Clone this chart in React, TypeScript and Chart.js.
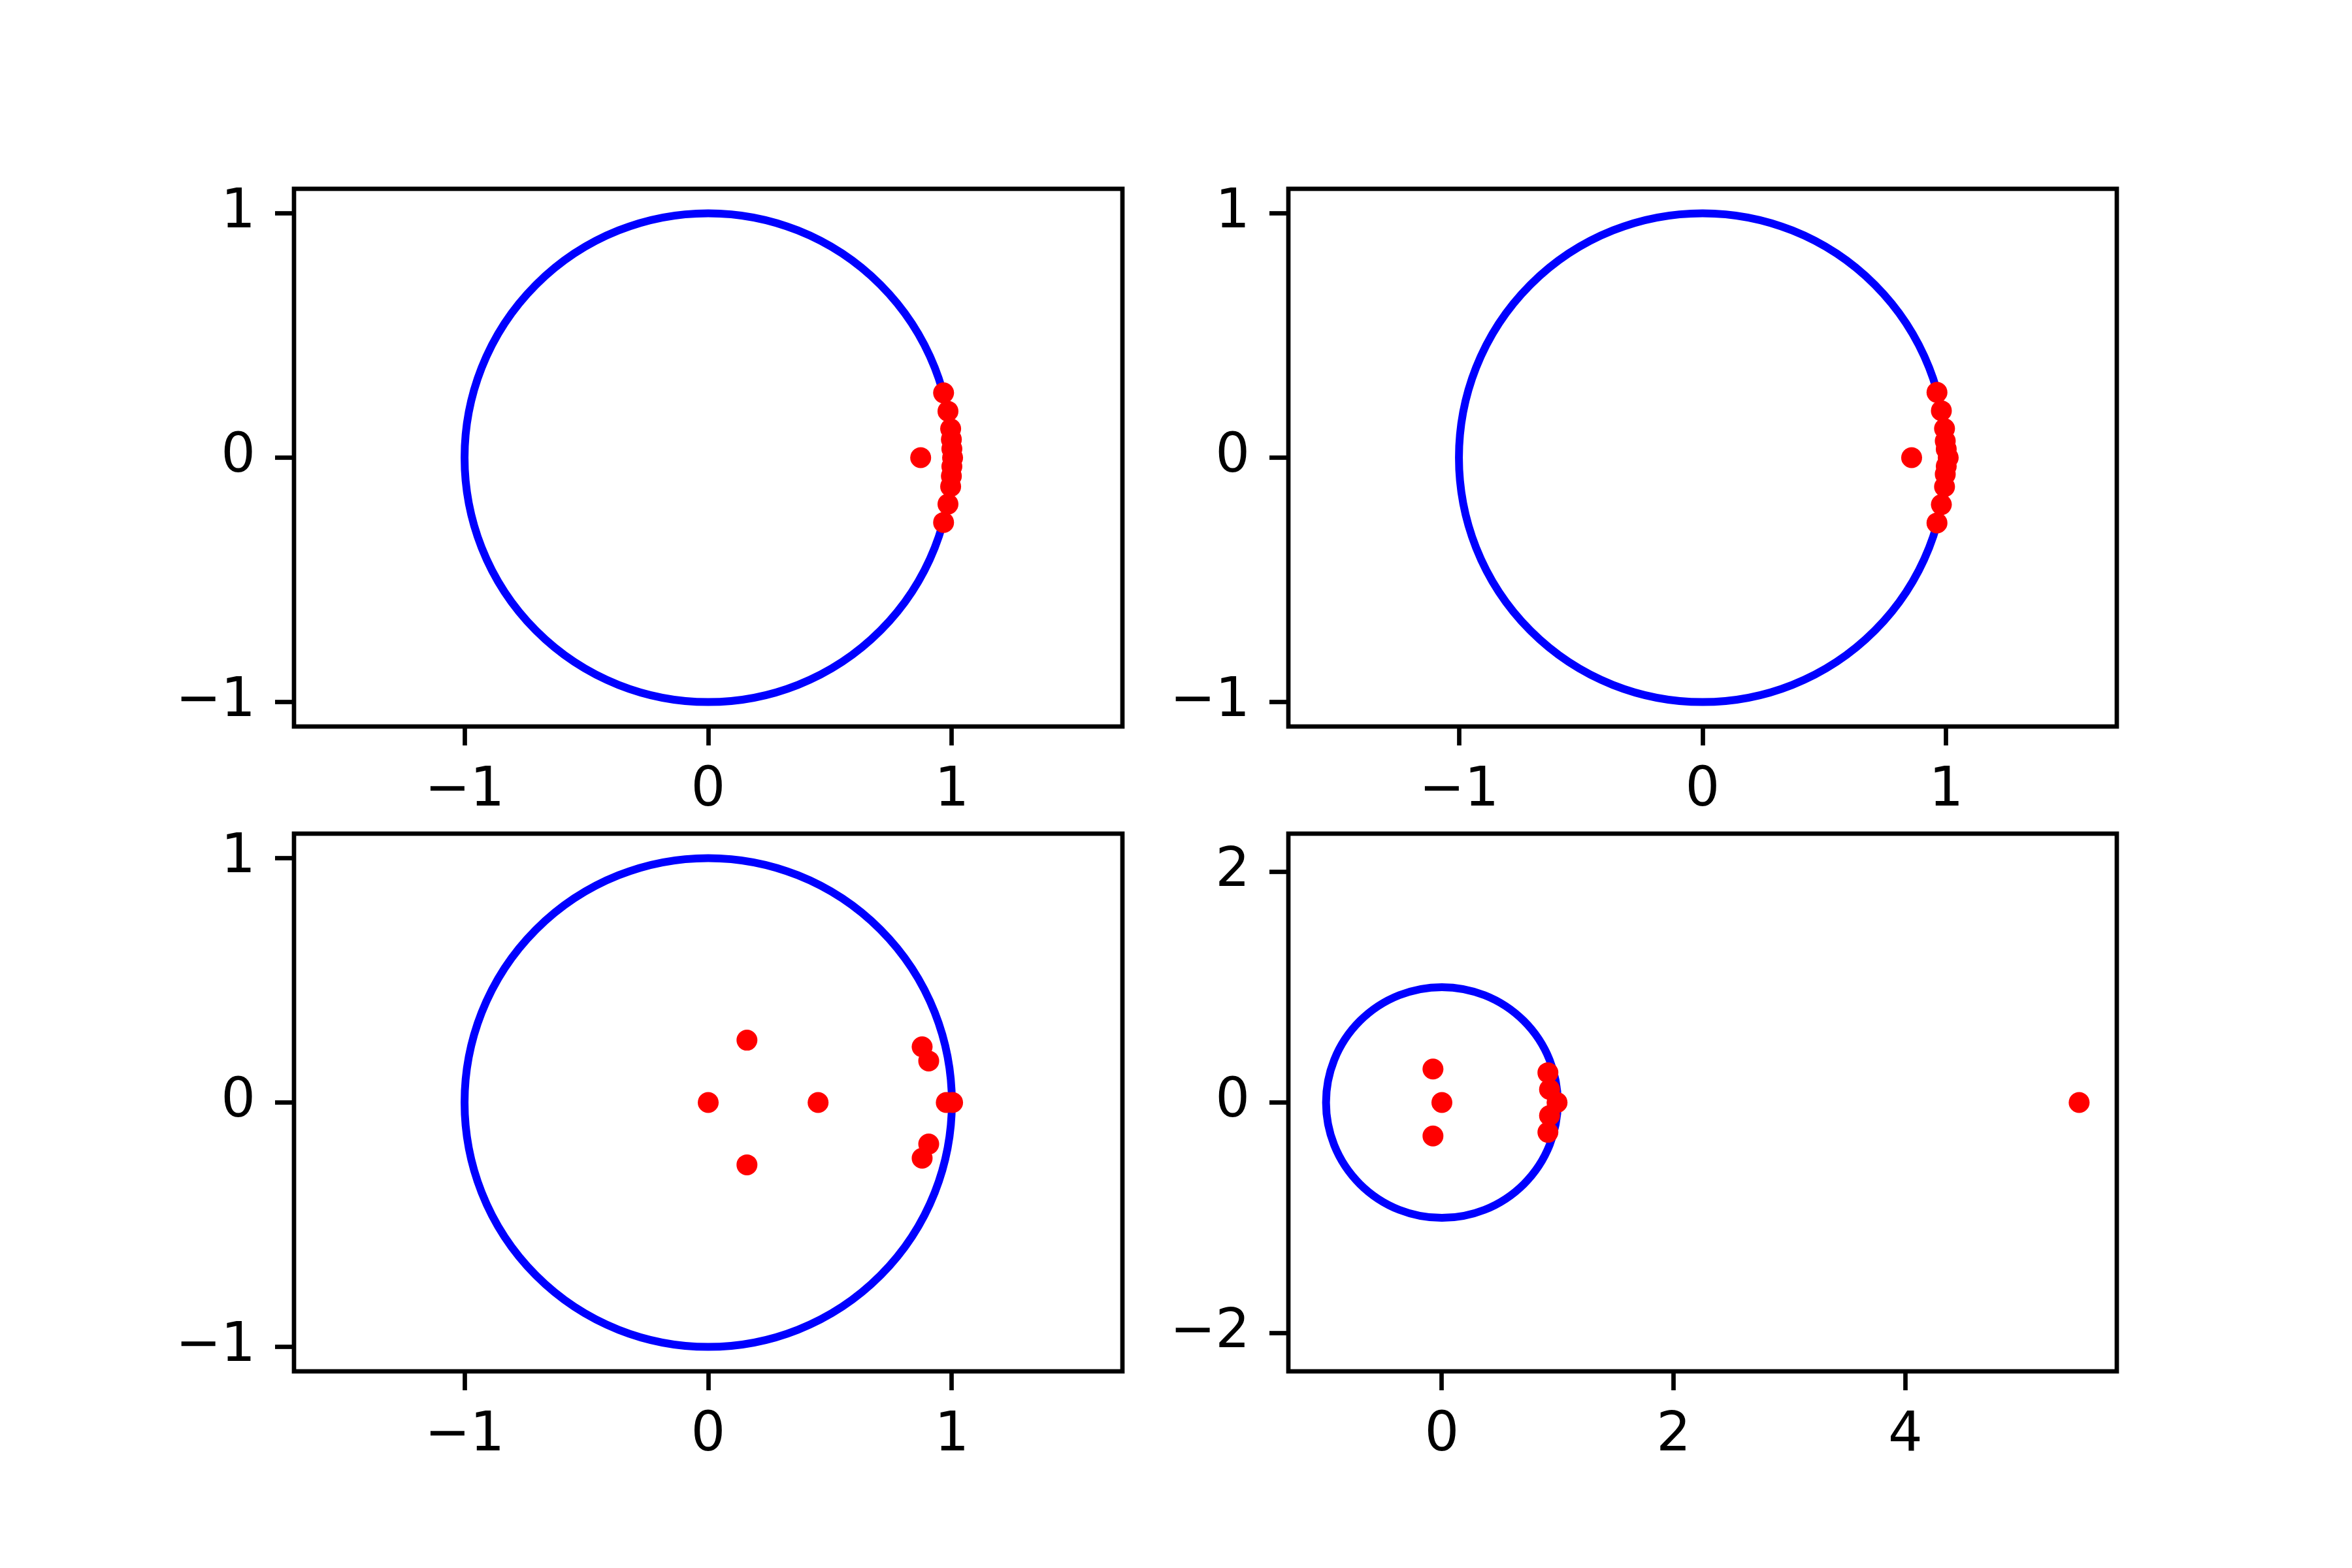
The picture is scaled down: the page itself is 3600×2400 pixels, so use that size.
import React, { useEffect, useRef } from "react";
import { Chart, registerables } from "chart.js";

Chart.register(...registerables);

// ---------- data ----------
// reference circle (unit circle) drawn in every panel
const circleCenterX = 0;
const circleCenterY = 0;
const circleRadius = 1;

// panel 1 (top-left) roots
const p1Re = [0.872, 0.966, 0.984, 0.995, 0.998, 1.0, 1.003, 1.0, 0.998, 0.995, 0.984, 0.966];
const p1Im = [0, 0.265, 0.19, 0.118, 0.075, 0.036, 0, -0.036, -0.075, -0.118, -0.19, -0.265];

// panel 2 (top-right) roots
const p2Re = [0.858, 0.962, 0.98, 0.993, 0.996, 1.0, 1.008, 1.0, 0.996, 0.993, 0.98, 0.962];
const p2Im = [0, 0.267, 0.192, 0.119, 0.068, 0.035, 0, -0.035, -0.068, -0.119, -0.192, -0.267];

// panel 3 (bottom-left) roots
const p3Re = [0, 0.159, 0.159, 0.451, 0.878, 0.905, 0.977, 1.003, 0.905, 0.878];
const p3Im = [0, 0.255, -0.255, 0, 0.228, 0.17, 0, 0, -0.17, -0.228];

// panel 4 (bottom-right) roots
const p4Re = [-0.077, 0, -0.077, 0.915, 0.929, 0.994, 0.929, 0.915, 5.5];
const p4Im = [0.29, 0, -0.29, 0.258, 0.113, 0, -0.113, -0.258, 0];

// axis limits and tick labels
const p1XRange = [-1.7, 1.7];
const p1YRange = [-1.1, 1.1];
const p4XRange = [-1.325, 5.825];
const p4YRange = [-2.33, 2.33];
const unitTicks = [-1, 0, 1];
const p4XTicks = [0, 2, 4];
const p4YTicks = [-2, 0, 2];

// ---------- layout (styles) ----------
const FONT = "'DejaVu Sans', 'Liberation Sans', sans-serif";
const FONT_SIZE = 83;
const Y_AXIS_W = 250;
const X_AXIS_H = 200;
const PAD_TOP = 20;
const PAD_RIGHT = 20;

const boxes = [
  { left: 450, top: 289, width: 1268, height: 823 },
  { left: 1972, top: 289, width: 1268, height: 823 },
  { left: 450, top: 1276, width: 1268, height: 823 },
  { left: 1972, top: 1276, width: 1268, height: 823 },
];

const panels = [
  { re: p1Re, im: p1Im, xr: p1XRange, yr: p1YRange, xt: unitTicks, yt: unitTicks },
  { re: p2Re, im: p2Im, xr: p1XRange, yr: p1YRange, xt: unitTicks, yt: unitTicks },
  { re: p3Re, im: p3Im, xr: p1XRange, yr: p1YRange, xt: unitTicks, yt: unitTicks },
  { re: p4Re, im: p4Im, xr: p4XRange, yr: p4YRange, xt: p4XTicks, yt: p4YTicks },
];

const fmt = (v: number | string) => {
  const n = Number(v);
  return n < 0 ? "\u2212" + Math.abs(n) : String(n);
};

const circlePlugin = {
  id: "unitCircleAndFrame",
  beforeDatasetsDraw(chart: any) {
    const { ctx, chartArea, scales } = chart;
    const x = scales.x;
    const y = scales.y;
    const cx = x.getPixelForValue(circleCenterX);
    const cy = y.getPixelForValue(circleCenterY);
    const rx = Math.abs(x.getPixelForValue(circleCenterX + circleRadius) - cx);
    const ry = Math.abs(y.getPixelForValue(circleCenterY + circleRadius) - cy);
    ctx.save();
    ctx.beginPath();
    ctx.rect(chartArea.left, chartArea.top, chartArea.right - chartArea.left, chartArea.bottom - chartArea.top);
    ctx.clip();
    ctx.beginPath();
    ctx.ellipse(cx, cy, rx, ry, 0, 0, Math.PI * 2);
    ctx.strokeStyle = "#0000ff";
    ctx.lineWidth = 12;
    ctx.stroke();
    ctx.restore();
  },
  afterDraw(chart: any) {
    const { ctx, chartArea } = chart;
    ctx.save();
    ctx.strokeStyle = "#000000";
    ctx.lineWidth = 6.7;
    ctx.lineJoin = "miter";
    ctx.strokeRect(chartArea.left, chartArea.top, chartArea.right - chartArea.left, chartArea.bottom - chartArea.top);
    ctx.restore();
  },
};

function Panel({ idx }: { idx: number }) {
  const ref = useRef<HTMLCanvasElement | null>(null);
  const p = panels[idx];
  const b = boxes[idx];
  const cw = b.width + Y_AXIS_W + PAD_RIGHT;
  const ch = b.height + PAD_TOP + X_AXIS_H;

  useEffect(() => {
    if (!ref.current) return;
    const pts = p.re.map((r, i) => ({ x: r, y: p.im[i] }));
    const axisCommon = (ticks: number[]) => ({
      type: "linear" as const,
      afterBuildTicks: (s: any) => {
        s.ticks = ticks.map((v) => ({ value: v }));
      },
      grid: {
        display: true,
        drawOnChartArea: false,
        drawTicks: true,
        tickLength: 29,
        tickWidth: 6.7,
        tickColor: "#000000",
      },
      border: { display: false },
    });
    const chart = new Chart(ref.current, {
      type: "scatter",
      data: {
        datasets: [
          {
            data: pts,
            pointRadius: 16,
            pointHoverRadius: 16,
            pointBackgroundColor: "#ff0000",
            pointBorderWidth: 0,
            showLine: false,
          },
        ],
      },
      options: {
        animation: false,
        responsive: false,
        devicePixelRatio: 1,
        layout: { padding: { left: 0, top: PAD_TOP, right: PAD_RIGHT, bottom: 0 } },
        plugins: { legend: { display: false }, tooltip: { enabled: false } },
        scales: {
          x: {
            ...axisCommon(p.xt),
            min: p.xr[0],
            max: p.xr[1],
            afterFit: (s: any) => {
              s.height = X_AXIS_H;
              s.paddingLeft = 0;
              s.paddingRight = 0;
              s.paddingTop = 0;
              s.paddingBottom = 0;
            },
            ticks: {
              padding: 21,
              color: "#000000",
              font: { family: FONT, size: FONT_SIZE },
              maxRotation: 0,
              autoSkip: false,
              callback: (v: any) => fmt(v),
            },
          },
          y: {
            ...axisCommon(p.yt),
            min: p.yr[0],
            max: p.yr[1],
            afterFit: (s: any) => {
              s.width = Y_AXIS_W;
              s.paddingLeft = 0;
              s.paddingRight = 0;
              s.paddingTop = 0;
              s.paddingBottom = 0;
            },
            ticks: {
              padding: 30,
              color: "#000000",
              font: { family: FONT, size: FONT_SIZE },
              autoSkip: false,
              callback: (v: any) => fmt(v),
            },
          },
        },
      } as any,
      plugins: [circlePlugin],
    });
    return () => chart.destroy();
  }, []);

  return (
    <div
      style={{
        position: "absolute",
        left: b.left - Y_AXIS_W,
        top: b.top - PAD_TOP,
        width: cw,
        height: ch,
      }}
    >
      <canvas ref={ref} width={cw} height={ch} style={{ width: cw, height: ch, display: "block" }} />
    </div>
  );
}

export default function App() {
  return (
    <div
      style={{
        position: "absolute",
        left: 0,
        top: 0,
        width: 3600,
        height: 2400,
        background: "#ffffff",
        overflow: "hidden",
      }}
    >
      {panels.map((_, i) => (
        <Panel key={i} idx={i} />
      ))}
    </div>
  );
}
